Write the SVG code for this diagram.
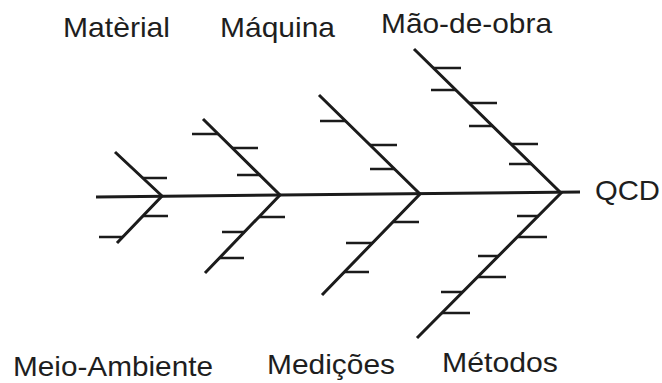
<svg xmlns="http://www.w3.org/2000/svg" width="662" height="383" viewBox="0 0 662 383">
<style>
.bone{stroke:#1b1b1b;stroke-width:3;stroke-linecap:butt;fill:none}
.tick{stroke:#1b1b1b;stroke-width:2.6;fill:none}
.lbl{font-family:"Liberation Sans",Arial,Helvetica,sans-serif;font-size:28px;fill:#1e1e1e}
</style>
<rect width="662" height="383" fill="#ffffff"/>
<g id="connectors">
  <path class="bone" d="M96,197 L580,192"/>
  <path class="bone" d="M115,152 L162,196 L117,243"/>
  <path class="bone" d="M203,119 L280,195 L205,273"/>
  <path class="bone" d="M319,95 L420,194 L322,295"/>
  <path class="bone" d="M414,49 L561,193 L417,338"/>
  <g id="ticks">
    <path class="tick" d="M143,178H167 M143,216H168 M99,237H123"/>
    <path class="tick" d="M192,134H218 M232,148H258 M237,175H261 M259,217H285 M222,232H245 M220,258H244"/>
    <path class="tick" d="M320,121H346 M370,145H397 M370,169H395 M393,222H419 M346,243H373 M344,272H369"/>
    <path class="tick" d="M433,68H461 M431,90H456 M469,103H497 M469,126H493 M511,144H538 M509,164H532"/>
    <path class="tick" d="M517,216H539 M518,237H547 M478,256H499 M478,277H506 M441,292H463 M442,313H470"/>
  </g>
</g>
<g id="material"><text class="lbl" x="63" y="37" textLength="107" lengthAdjust="spacingAndGlyphs">Matèrial</text></g>
<g id="maquina"><text class="lbl" x="220" y="37" textLength="115" lengthAdjust="spacingAndGlyphs">Máquina</text></g>
<g id="mao-de-obra"><text class="lbl" x="381" y="33" textLength="171" lengthAdjust="spacingAndGlyphs">Mão-de-obra</text></g>
<g id="qcd"><text class="lbl" x="595" y="200" textLength="65" lengthAdjust="spacingAndGlyphs">QCD</text></g>
<g id="meio-ambiente"><text class="lbl" x="13" y="376" textLength="200" lengthAdjust="spacingAndGlyphs">Meio-Ambiente</text></g>
<g id="medicoes"><text class="lbl" x="267" y="374" textLength="128" lengthAdjust="spacingAndGlyphs">Medições</text></g>
<g id="metodos"><text class="lbl" x="442" y="372" textLength="116" lengthAdjust="spacingAndGlyphs">Métodos</text></g>
</svg>
